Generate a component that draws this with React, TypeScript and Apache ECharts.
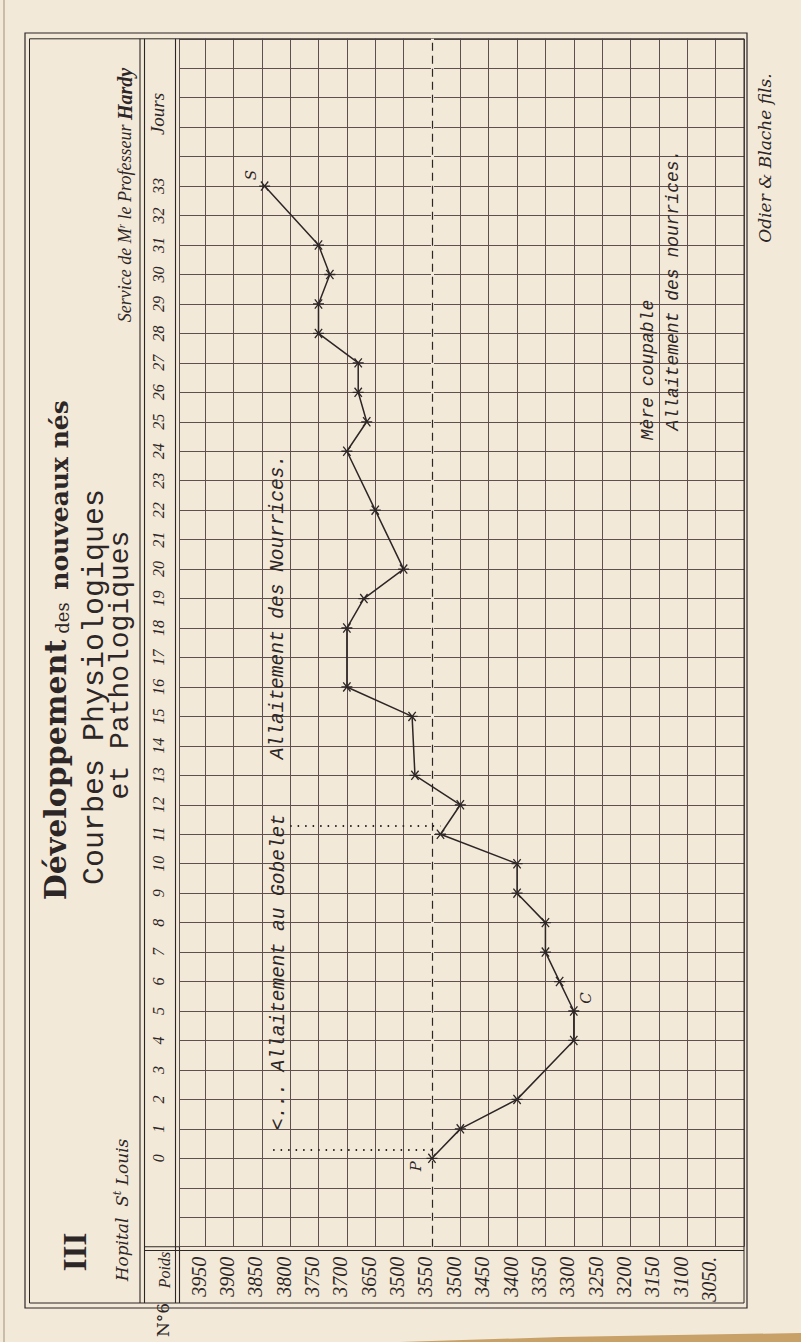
import React, { useEffect, useRef } from 'react';
import * as echarts from 'echarts';

// ---------- data ----------
const dayTickLabels = ['0','1','2','3','4','5','6','7','8','9','10','11','12','13','14','15','16','17','18','19','20','21','22','23','24','25','26','27','28','29','30','31','32','33'];
const weightTickValues = [3950,3900,3850,3800,3750,3700,3650,3600,3550,3500,3450,3400,3350,3300,3250,3200,3150,3100,3050];
const weightTickLabels = ['3950','3900','3850','3800','3750','3700','3650','3500','3550','3500','3450','3400','3350','3300','3250','3200','3150','3100','3050.'];

const markedDays = [0,1,2,4,5,6,7,8,9,10,11,12,13,15,16,18,19,20,22,24,25,26,27,28,29,30,31,33];
const weightsGrams = [3550,3500,3400,3300,3300,3325,3350,3350,3400,3400,3535,3500,3580,3585,3700,3700,3670,3600,3650,3700,3665,3680,3680,3750,3750,3730,3750,3845];

const pointNotes = [{ day: 0, text: 'P' }, { day: 5, text: 'C' }, { day: 33, text: 'S' }];
const regimeStarts = [{ day: 0, fromWeight: 3830 }, { day: 11, fromWeight: 3800 }];
const separatorWeight = 3550;

// ---------- style ----------
const paper = '#f3e9d8';
const ink = '#2d2626';
const gridInk = '#5f4f4f';
const noteOffsets: Record<string, number[]> = { P: [-16, 8], C: [12, -13], S: [-14, -11] };
const regimeLineLift = 0.28;
const asterisk = 'path://M0,6L12,6M2,1L10,11M10,1L2,11';

const T = (text: string, x: number, y: number, s: any) => ({
  type: 'text', x, y, rotation: Math.PI / 2, silent: true,
  style: { text, fill: ink, align: 'center', verticalAlign: 'middle', ...s },
});
const L = (x1: number, y1: number, x2: number, y2: number, w = 1.1, c = ink) => ({
  type: 'line', silent: true, shape: { x1, y1, x2, y2 }, style: { stroke: c, lineWidth: w },
});

export default function App() {
  const ref = useRef<HTMLDivElement>(null);
  useEffect(() => {
    document.body.style.margin = '0';
    const chart = echarts.init(ref.current!, null, { renderer: 'svg' });
    const option: any = {
      animation: false,
      backgroundColor: paper,
      grid: { left: 179.5, top: 38.8, width: 564.5, height: 1207.9, containLabel: false },
      xAxis: {
        type: 'value', min: 3000, max: 3995, interval: 50, inverse: true, position: 'bottom',
        axisLine: { show: false }, axisTick: { show: false },
        splitLine: { show: true, lineStyle: { color: gridInk, width: 1 } },
        axisLabel: {
          show: true, rotate: 90, margin: 10, align: 'right', verticalAlign: 'bottom', lineHeight: 13,
          fontFamily: 'Liberation Serif', fontStyle: 'italic', fontSize: 20, color: ink,
          formatter: (v: number) => { const i = weightTickValues.indexOf(v); return i >= 0 ? weightTickLabels[i] : ''; },
        },
      },
      yAxis: {
        type: 'value', min: -3, max: 38, interval: 1, position: 'left',
        axisLine: { show: false }, axisTick: { show: false },
        splitLine: { show: true, lineStyle: { color: gridInk, width: 1 } },
        axisLabel: {
          show: true, rotate: 90, margin: 21.5, align: 'center', verticalAlign: 'middle',
          fontFamily: 'Liberation Serif', fontStyle: 'italic', fontSize: 16, color: ink,
          formatter: (v: number) => (v >= 0 && v < dayTickLabels.length ? dayTickLabels[v] : ''),
        },
      },
      series: [{
        type: 'line',
        data: markedDays.map((d, i) => [weightsGrams[i], d]),
        symbol: asterisk, symbolSize: 11, symbolKeepAspect: true,
        lineStyle: { color: ink, width: 1.5 },
        itemStyle: { color: ink, borderColor: ink, borderWidth: 1.3 },
        z: 5,
        markLine: {
          silent: true, symbol: ['none', 'none'], label: { show: false },
          data: [
            { xAxis: separatorWeight, lineStyle: { color: paper, width: 3, type: 'solid' } },
            { xAxis: separatorWeight, lineStyle: { color: ink, width: 1.2, type: [8, 5] } },
            ...regimeStarts.map((r) => {
              const i = markedDays.indexOf(r.day);
              return [
                { coord: [r.fromWeight, r.day + regimeLineLift], lineStyle: { color: ink, width: 1.8, type: [1.5, 6] } },
                { coord: [weightsGrams[i], r.day + regimeLineLift] },
              ];
            }),
          ],
        },
      }],
    };
    chart.setOption(option);

    const notes = pointNotes.map((n) => {
      const i = markedDays.indexOf(n.day);
      const p = chart.convertToPixel({ gridIndex: 0 }, [weightsGrams[i], n.day]) as number[];
      const off = noteOffsets[n.text];
      return T(n.text, p[0] + off[0], p[1] + off[1], { fontFamily: 'DejaVu Serif', fontStyle: 'italic', fontSize: 15 });
    });

    const serif = 'DejaVu Serif';
    const mono = 'Liberation Mono';
    const lib = 'Liberation Serif';
    const elements: any[] = [
      // frames
      { type: 'rect', silent: true, shape: { x: 25, y: 33, width: 722, height: 1275 }, style: { fill: 'none', stroke: ink, lineWidth: 1.2 } },
      { type: 'rect', silent: true, shape: { x: 29.5, y: 38.8, width: 714.5, height: 1264.2 }, style: { fill: 'none', stroke: ink, lineWidth: 1 } },
      L(140, 38.8, 140, 1303), L(144.5, 38.8, 144.5, 1303),
      L(175.5, 38.8, 175.5, 1303), L(179.5, 1246.7, 179.5, 1303),
      L(144.5, 1246.7, 179.5, 1246.7), L(144.5, 1250.5, 744, 1250.5),
      L(4, 0, 4, 1342, 2, '#c9bda9'),
      { type: 'polygon', silent: true, shape: { points: [[400, 1342], [560, 1337], [801, 1333], [801, 1342]] }, style: { fill: '#c7a167' } },
      // title block
      T('Développement', 55, 770, { fontFamily: serif, fontWeight: 'bold', fontSize: 30 }),
      T('des', 62, 618, { fontFamily: serif, fontSize: 18 }),
      T('nouveaux nés', 59, 495, { fontFamily: serif, fontWeight: 'bold', fontSize: 25 }),
      T('Courbes Physiologiques', 95, 687, { fontFamily: mono, fontSize: 30 }),
      T('et Pathologiques', 120, 665, { fontFamily: mono, fontSize: 28 }),
      T('', 125, 195, {
        text: '{a|Service de M}{s|r}{a| le Professeur }{b|Hardy}',
        rich: {
          a: { fontFamily: lib, fontStyle: 'italic', fontSize: 18, fill: ink, lineHeight: 20 },
          s: { fontFamily: lib, fontStyle: 'italic', fontSize: 11, fill: ink, lineHeight: 20, verticalAlign: 'top' },
          b: { fontFamily: lib, fontStyle: 'italic', fontWeight: 'bold', fontSize: 20, fill: ink, lineHeight: 20 },
        },
      }),
      T('', 122, 1210, {
        text: '{a|Hopital  S}{s|t}{a| Louis}',
        rich: {
          a: { fontFamily: serif, fontStyle: 'italic', fontSize: 17, fill: ink, lineHeight: 20 },
          s: { fontFamily: serif, fontStyle: 'italic', fontSize: 11, fill: ink, lineHeight: 20, verticalAlign: 'top' },
        },
      }),
      T('III', 75, 1252, { fontFamily: lib, fontWeight: 'bold', fontSize: 33 }),
      T('Poids', 164, 1270, { fontFamily: lib, fontStyle: 'italic', fontSize: 16 }),
      T('Jours', 157, 114, { fontFamily: lib, fontStyle: 'italic', fontSize: 19 }),
      T('N°6', 163, 1320, { fontFamily: serif, fontSize: 17 }),
      // annotations in grid
      T('<... Allaitement au Gobelet', 279, 972, { fontFamily: mono, fontStyle: 'italic', fontSize: 19.5 }),
      T('Allaitement des Nourrices.', 278, 607, { fontFamily: mono, fontStyle: 'italic', fontSize: 19.5 }),
      T('Mère coupable', 648, 370, { fontFamily: mono, fontStyle: 'italic', fontSize: 18 }),
      T('Allaitement des nourrices.', 673, 290, { fontFamily: mono, fontStyle: 'italic', fontSize: 18 }),
      T('Odier & Blache fils.', 765, 158, { fontFamily: serif, fontStyle: 'italic', fontSize: 17 }),
      ...notes,
    ];
    chart.setOption({ graphic: { elements } });
    return () => chart.dispose();
  }, []);
  return <div ref={ref} style={{ position: 'absolute', left: 0, top: 0, width: 801, height: 1342 }} />;
}
